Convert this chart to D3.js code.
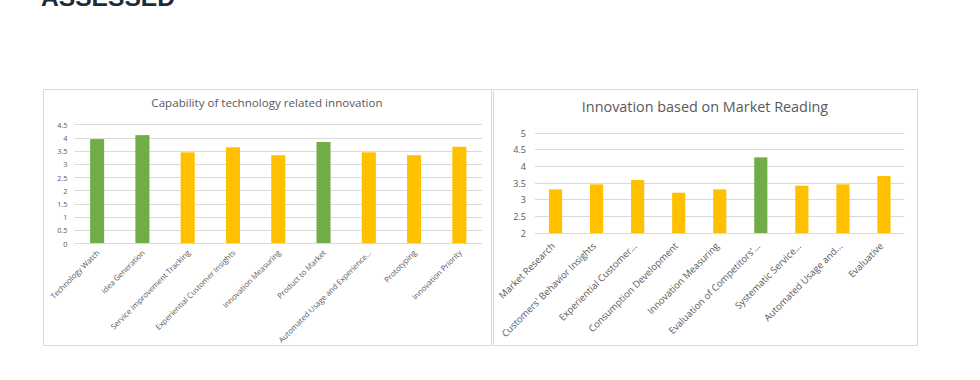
<!DOCTYPE html>
<html>
<head>
<meta charset="utf-8">
<script src="https://cdn.jsdelivr.net/npm/d3@7"></script>
<style>
body { margin: 0; background: #fff; }
svg { display: block; }
</style>
</head>
<body>
<svg id="chart" width="980" height="380"></svg>
<script>
// left chart data
var techCategories = ["Technology Watch", "Idea Generation", "Service Improvement Tracking",
    "Experiential Customer Insights", "Innovation Measuring", "Product to Market",
    "Automated Usage and Experience...", "Prototyping", "Innovation Priority"];
var techValues = [3.94, 4.09, 3.44, 3.63, 3.33, 3.83, 3.44, 3.33, 3.65];
var techHighlight = [1, 1, 0, 0, 0, 1, 0, 0, 0];
var techTicks = [0, 0.5, 1, 1.5, 2, 2.5, 3, 3.5, 4, 4.5];

// right chart data
var marketCategories = ["Market Research", "Customers' Behavior Insights", "Experiential Customer...",
    "Consumption Development", "Innovation Measuring", "Evaluation of Competitors'...",
    "Systematic Service...", "Automated Usage and...", "Evaluative"];
var marketValues = [3.30, 3.45, 3.58, 3.20, 3.30, 4.26, 3.41, 3.45, 3.70];
var marketHighlight = [0, 0, 0, 0, 0, 1, 0, 0, 0];
var marketTicks = [2, 2.5, 3, 3.5, 4, 4.5, 5];

var green = "#70ad47", yellow = "#ffc000";
var svg = d3.select("#chart");

// page heading, cut off by the top of the window
svg.append("text")
    .attr("x", 41)
    .attr("y", 6)
    .attr("font-family", "Liberation Sans, Arial, sans-serif")
    .attr("font-weight", "bold")
    .attr("font-size", 24.6)
    .attr("fill", "#1e2b37")
    .text("ASSESSED");

function drawChart(cfg){
    var g = svg.append("g");
    // panel border
    g.append("rect")
        .attr("x", cfg.box[0] + 0.5)
        .attr("y", cfg.box[1] + 0.5)
        .attr("width", cfg.box[2])
        .attr("height", cfg.box[3])
        .attr("fill", "#fff")
        .attr("stroke", "#d9d9d9");

    g.append("text")
        .attr("x", cfg.titleX)
        .attr("y", cfg.titleY)
        .attr("text-anchor", "middle")
        .attr("font-family", "Open Sans, sans-serif")
        .attr("font-size", cfg.titleSize)
        .attr("fill", "#595959")
        .text(cfg.title);

    var x = d3.scaleBand()
        .domain(cfg.categories)
        .range([cfg.left, cfg.right])
        .paddingInner(cfg.pad)
        .paddingOuter(cfg.pad / 2);
    var y = d3.scaleLinear()
        .domain(d3.extent(cfg.ticks))
        .range([cfg.bottom, cfg.top]);

    // gridlines
    g.append("g")
        .selectAll("line")
        .data(cfg.ticks)
        .enter()
        .append("line")
        .attr("x1", cfg.left)
        .attr("x2", cfg.right)
        .attr("y1", function(d){ return Math.round(y(d)) + 0.5; })
        .attr("y2", function(d){ return Math.round(y(d)) + 0.5; })
        .attr("stroke", "#d9d9d9");

    var yAxis = g.append("g")
        .attr("transform", "translate(" + cfg.left + ",0.5)")
        .call(d3.axisLeft(y).tickValues(cfg.ticks).tickSize(0).tickPadding(cfg.tickPad)
            .tickFormat(function(d){ return String(d); }));
    yAxis.select(".domain").remove();
    yAxis.selectAll("text")
        .attr("font-family", "Open Sans, sans-serif")
        .attr("font-size", cfg.tickSize)
        .attr("fill", "#595959");

    var base = Math.round(cfg.bottom);
    g.append("g")
        .selectAll("rect")
        .data(cfg.values)
        .enter()
        .append("rect")
        .attr("x", function(d, i){ return x(cfg.categories[i]); })
        .attr("width", x.bandwidth())
        .attr("y", function(d){ return y(d); })
        .attr("height", function(d){ return base - y(d); })
        .attr("fill", function(d, i){ return cfg.highlight[i] ? green : yellow; });

    // category labels, rotated like the spreadsheet
    g.append("g")
        .selectAll("text")
        .data(cfg.categories)
        .enter()
        .append("text")
        .attr("transform", function(d){
            var cx = x(d) + x.bandwidth() / 2 + cfg.labelDx;
            return "translate(" + cx + "," + (cfg.bottom + cfg.labelDy) + ") rotate(-45)";
        })
        .attr("text-anchor", "end")
        .attr("font-family", "Open Sans, sans-serif")
        .attr("font-size", cfg.labelSize)
        .attr("fill", "#595959")
        .text(function(d){ return d; });
}

drawChart({
    box: [43, 89, 448, 256],
    title: "Capability of technology related innovation",
    titleX: 267, titleY: 107, titleSize: 11.6,
    categories: techCategories, values: techValues, highlight: techHighlight, ticks: techTicks,
    left: 74.5, right: 482, top: 124.3, bottom: 243.3, pad: 0.69,
    tickPad: 7, tickSize: 7.3, labelSize: 7.7, labelDx: 3, labelDy: 10
});

drawChart({
    box: [493, 89, 424, 256],
    title: "Innovation based on Market Reading",
    titleX: 705, titleY: 112, titleSize: 14.4,
    categories: marketCategories, values: marketValues, highlight: marketHighlight, ticks: marketTicks,
    left: 535, right: 904.5, top: 132.7, bottom: 232.7, pad: 0.68,
    tickPad: 9, tickSize: 9, labelSize: 9.5, labelDx: 0, labelDy: 14
});
</script>
</body>
</html>
